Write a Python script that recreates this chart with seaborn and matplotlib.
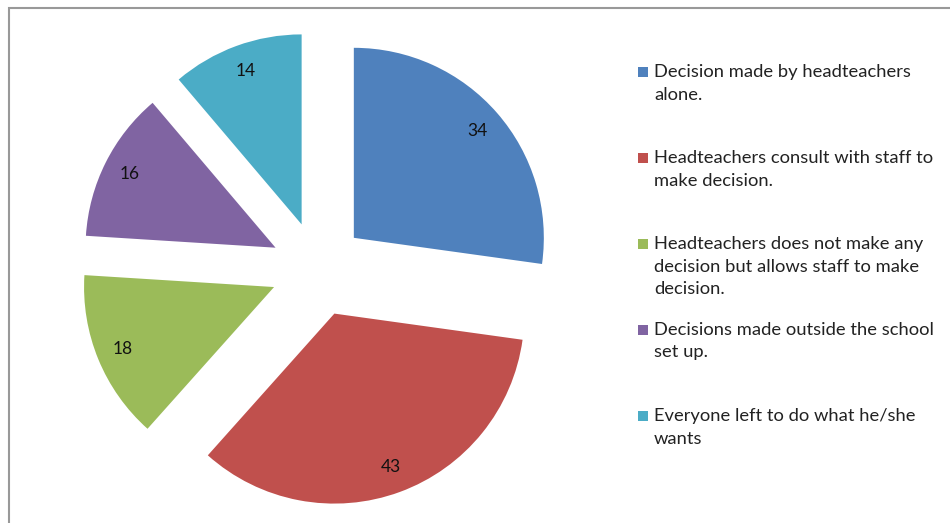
import matplotlib
matplotlib.use("Agg")
import matplotlib.pyplot as plt
import seaborn as sns
from matplotlib.patches import Rectangle

sns.set_theme(style="white")
plt.rcParams["font.family"] = ["Lato", "DejaVu Sans"]

# Survey responses: who makes decisions in the school
categories = [
    "Decision made by headteachers\nalone.",
    "Headteachers consult with staff to\nmake decision.",
    "Headteachers does not make any\ndecision but allows staff to make\ndecision.",
    "Decisions made outside the school\nset up.",
    "Everyone left to do what he/she\nwants",
]
counts = [34, 43, 18, 16, 14]
colors = ["#4F81BD", "#C0504D", "#9BBB59", "#8064A2", "#4BACC6"]

W, H = 950, 523
fig = plt.figure(figsize=(W / 100, H / 100), dpi=100)
fig.patch.set_facecolor("white")

# Pie axes: centre at (318, 269) px, radius 190 px
cx, cy, r = 318, 269, 190
ax_w = 640
ax = fig.add_axes([0, 0, ax_w / W, 1])
wedges, texts = ax.pie(
    counts,
    colors=colors,
    startangle=90,
    counterclock=False,
    explode=[0.25] * len(counts),
    labels=[str(c) for c in counts],
    labeldistance=0.86,
    wedgeprops=dict(linewidth=0),
    textprops=dict(fontsize=12.5, color="#111111"),
)
for t in texts:
    t.set_ha("center")
    t.set_va("center")
ax.set_aspect("auto")
ax.set_xlim((0 - cx) / r, (ax_w - cx) / r)
ax.set_ylim((cy - H) / r, cy / r)
ax.axis("off")

# Legend: coloured squares with wrapped labels, evenly spaced rows
y0, step = 72, 86
for i, (lab, col) in enumerate(zip(categories, colors)):
    y = y0 + i * step
    fig.patches.append(Rectangle((638 / W, 1 - (y + 5) / H), 10 / W, 10 / H,
                                 transform=fig.transFigure, facecolor=col,
                                 edgecolor="none"))
    fig.text(654 / W, 1 - (y - 8) / H, lab, ha="left", va="top",
             fontsize=13.2, color="#222222", linespacing=1.5)

# Outer frame (top and left edges visible)
fig.patches.append(Rectangle((8.5 / W, -0.1), 1.2, 1 - 8 / H + 0.1,
                             transform=fig.transFigure, facecolor="none",
                             edgecolor="#999999", linewidth=1.5))

fig.savefig("out.png", dpi=100)
